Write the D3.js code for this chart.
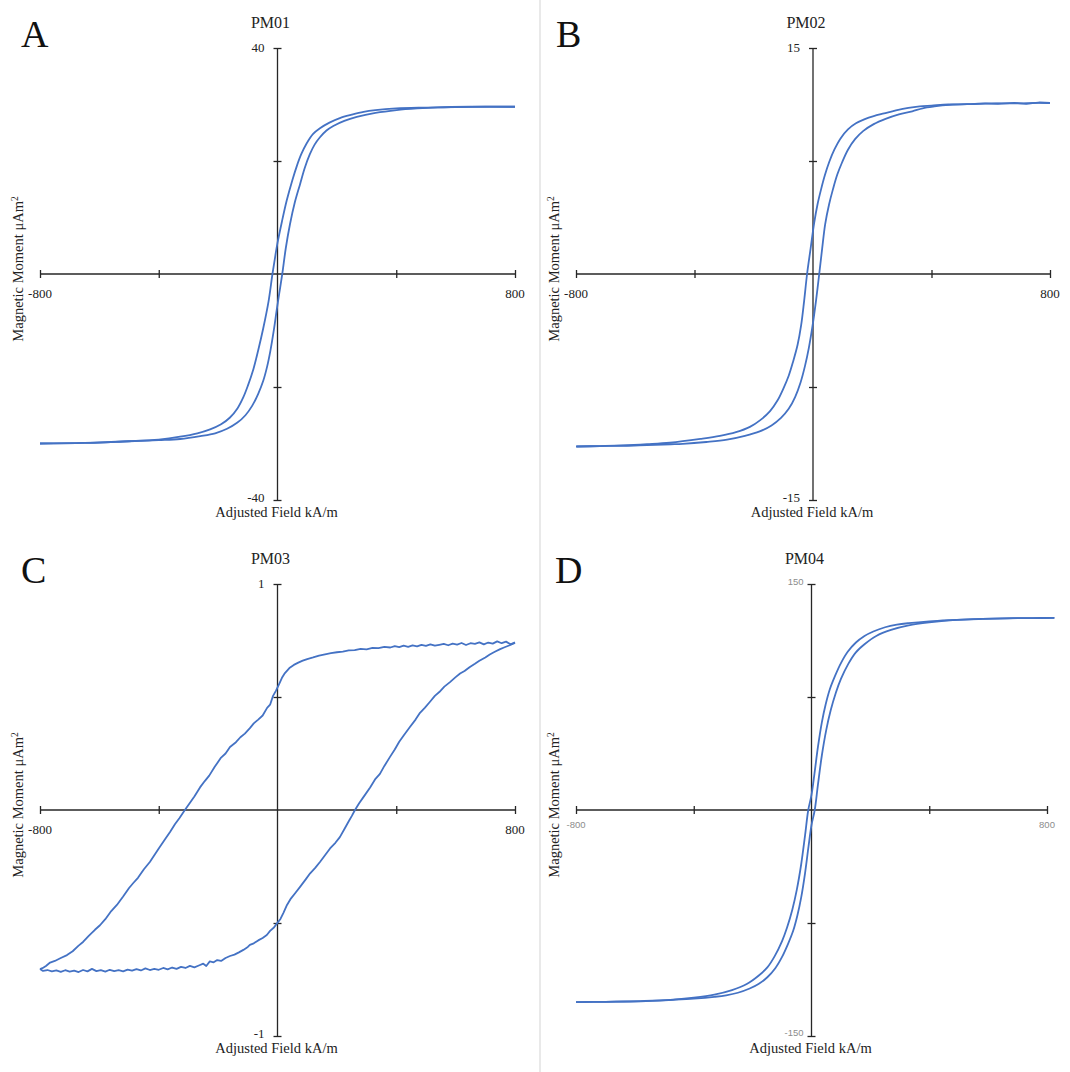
<!DOCTYPE html>
<html>
<head>
<meta charset="utf-8">
<script src="https://cdn.jsdelivr.net/npm/d3@7"></script>
<style>
  body { margin: 0; background: #fff; }
  svg { display: block; }
</style>
</head>
<body>
<svg id="chart" width="1070" height="1072"></svg>
<script>
// ---- Hysteresis loop data: [field kA/m, moment µAm²] ----
const panelLetters = ["A", "B", "C", "D"];
const sampleNames = ["PM01", "PM02", "PM03", "PM04"];
const fieldTicks = [-800, -400, 400, 800];
const fieldLabels = ["-800", "800"];
const momentLimits = [40, 15, 1, 150];
const momentLabels = [["40", "-40"], ["15", "-15"], ["1", "-1"], ["150", "-150"]];

// PM01
const pm01Down = [[800,29.6],[700,29.6],[600,29.55],[500,29.45],[400,29.3],[330,29.0],[290,28.7],[250,28.2],[210,27.6],[175,26.8],[143,25.8],[120,24.8],[98,23.1],[80,21.2],[65,19.1],[50,16.6],[31,13.0],[15,9.3],[0,5.5],[-8,3.0],[-17,0],[-30,-4.8],[-48,-9.6],[-65,-13.5],[-81,-16.8],[-100,-19.8],[-115,-21.8],[-135,-23.8],[-160,-25.4],[-190,-26.6],[-227,-27.5],[-270,-28.2],[-328,-28.8],[-400,-29.3],[-500,-29.6],[-650,-29.9],[-800,-30.0]];
const pm01Up = [[-800,-30.0],[-650,-29.9],[-500,-29.6],[-400,-29.4],[-328,-29.2],[-260,-28.7],[-210,-28.2],[-170,-27.4],[-135,-26.3],[-108,-25.0],[-85,-23.3],[-65,-21.2],[-48,-18.9],[-35,-16.4],[-24,-13.6],[-12,-9.8],[-3,-6.5],[6,-3.4],[16,0],[28,4.6],[42,8.8],[58,12.6],[76,15.9],[92,18.8],[109,21.2],[125,22.9],[143,24.2],[165,25.4],[188,26.2],[225,27.1],[267,27.8],[330,28.5],[401,29.0],[470,29.3],[540,29.5],[650,29.6],[800,29.6]];

// PM02
const pm02Down = [[800,11.35],[760,11.38],[720,11.3],[680,11.36],[625,11.3],[580,11.32],[520,11.27],[457,11.25],[400,11.18],[360,11.13],[322,11.03],[280,10.86],[240,10.66],[205,10.48],[175,10.28],[145,10.0],[118,9.6],[93,9.0],[72,8.25],[55,7.45],[40,6.55],[27,5.6],[15,4.6],[4,3.4],[-8,1.7],[-20,0],[-30,-1.8],[-40,-3.4],[-52,-4.7],[-67,-5.8],[-82,-6.75],[-100,-7.6],[-120,-8.4],[-145,-9.1],[-178,-9.7],[-213,-10.15],[-260,-10.5],[-314,-10.75],[-380,-10.95],[-483,-11.2],[-560,-11.3],[-640,-11.38],[-720,-11.42],[-798,-11.45]];
const pm02Up = [[-800,-11.45],[-720,-11.42],[-640,-11.4],[-560,-11.35],[-480,-11.3],[-440,-11.27],[-360,-11.15],[-290,-11.0],[-230,-10.75],[-180,-10.45],[-140,-10.05],[-108,-9.55],[-82,-8.95],[-60,-8.15],[-42,-7.2],[-27,-6.1],[-14,-4.9],[-2,-3.5],[10,-1.8],[21,0],[31,1.7],[41,3.3],[54,4.6],[67,5.6],[82,6.6],[98,7.4],[118,8.25],[142,8.95],[170,9.5],[205,9.95],[245,10.3],[290,10.6],[335,10.8],[370,11.0],[410,11.12],[460,11.22],[540,11.28],[620,11.32],[700,11.33],[760,11.36],[800,11.35]];

// PM03
const pm03Down = [[800,0.742],[785,0.733],[770,0.745],[755,0.738],[740,0.746],[725,0.736],[710,0.741],[695,0.733],[680,0.742],[665,0.735],[650,0.738],[635,0.730],[620,0.739],[605,0.732],[590,0.736],[575,0.729],[560,0.735],[545,0.731],[530,0.727],[515,0.733],[500,0.726],[485,0.731],[470,0.724],[455,0.728],[440,0.722],[425,0.727],[410,0.721],[395,0.725],[380,0.719],[360,0.722],[340,0.716],[320,0.717],[300,0.711],[280,0.713],[260,0.707],[240,0.706],[220,0.701],[200,0.698],[180,0.694],[160,0.689],[140,0.683],[120,0.675],[100,0.668],[85,0.661],[70,0.652],[55,0.642],[40,0.628],[25,0.606],[15,0.585],[5,0.556],[-5,0.528],[-15,0.505],[-25,0.466],[-35,0.452],[-50,0.418],[-65,0.400],[-80,0.383],[-93,0.362],[-110,0.338],[-125,0.322],[-140,0.300],[-160,0.279],[-175,0.250],[-190,0.232],[-212,0.190],[-230,0.152],[-245,0.128],[-261,0.100],[-280,0.060],[-296,0.030],[-312,0.0],[-330,-0.035],[-345,-0.062],[-362,-0.097],[-380,-0.132],[-400,-0.170],[-415,-0.200],[-430,-0.230],[-450,-0.262],[-470,-0.300],[-485,-0.322],[-500,-0.345],[-520,-0.383],[-541,-0.420],[-560,-0.447],[-580,-0.483],[-598,-0.510],[-615,-0.530],[-635,-0.556],[-655,-0.584],[-670,-0.600],[-690,-0.625],[-709,-0.642],[-730,-0.655],[-750,-0.668],[-766,-0.675],[-780,-0.690],[-792,-0.700],[-800,-0.704]];
const pm03Up = [[-800,-0.704],[-790,-0.712],[-775,-0.708],[-760,-0.714],[-745,-0.710],[-730,-0.716],[-715,-0.709],[-700,-0.715],[-685,-0.711],[-670,-0.717],[-655,-0.708],[-640,-0.714],[-625,-0.703],[-610,-0.713],[-595,-0.709],[-580,-0.715],[-565,-0.707],[-550,-0.713],[-535,-0.709],[-520,-0.714],[-505,-0.706],[-490,-0.711],[-475,-0.704],[-460,-0.710],[-445,-0.701],[-430,-0.708],[-415,-0.703],[-400,-0.707],[-385,-0.699],[-370,-0.705],[-355,-0.697],[-340,-0.703],[-325,-0.694],[-310,-0.699],[-295,-0.690],[-280,-0.696],[-265,-0.688],[-250,-0.680],[-240,-0.690],[-228,-0.670],[-215,-0.674],[-203,-0.664],[-190,-0.668],[-175,-0.655],[-160,-0.646],[-145,-0.640],[-130,-0.630],[-115,-0.619],[-100,-0.606],[-93,-0.597],[-80,-0.590],[-65,-0.577],[-50,-0.566],[-36,-0.553],[-25,-0.535],[-12,-0.520],[-3,-0.504],[10,-0.482],[20,-0.455],[32,-0.420],[45,-0.392],[60,-0.367],[76,-0.340],[95,-0.307],[110,-0.280],[127,-0.256],[143,-0.230],[160,-0.200],[177,-0.170],[195,-0.145],[210,-0.120],[225,-0.085],[240,-0.050],[250,-0.027],[261,0.0],[275,0.030],[290,0.058],[312,0.100],[330,0.138],[345,0.160],[360,0.195],[379,0.235],[395,0.268],[410,0.302],[425,0.330],[446,0.367],[465,0.400],[480,0.430],[496,0.452],[513,0.478],[530,0.505],[545,0.522],[562,0.546],[581,0.566],[600,0.588],[615,0.604],[630,0.615],[648,0.633],[665,0.647],[680,0.660],[700,0.675],[715,0.688],[732,0.700],[750,0.712],[765,0.720],[780,0.728],[792,0.735],[800,0.739]];

// PM04
const pm04Down = [[825,127.5],[750,127.4],[650,127.2],[550,126.7],[470,126.0],[400,125.2],[330,124.0],[290,123.0],[250,121.3],[210,118.5],[180,115.5],[150,111.0],[123,105.0],[100,97.5],[80,89.0],[62,80.0],[48,70.0],[35,58.0],[22,42.0],[10,24.0],[0,10.0],[-11,0],[-22,-17],[-35,-36],[-50,-53],[-65,-66],[-83,-78],[-100,-87],[-125,-97],[-150,-104.5],[-180,-110],[-220,-115.5],[-270,-119.5],[-330,-122.5],[-400,-124.5],[-480,-126],[-580,-126.8],[-700,-127.3],[-800,-127.5]];
const pm04Up = [[-800,-127.5],[-700,-127.3],[-580,-127.0],[-470,-126.0],[-400,-125.2],[-330,-124.0],[-290,-123.0],[-250,-121.3],[-210,-118.5],[-180,-115.5],[-150,-111.0],[-123,-105],[-100,-97.5],[-80,-89],[-62,-80],[-48,-70],[-35,-58],[-22,-42],[-10,-24],[0,-10],[11,0],[22,17],[35,36],[50,53],[65,66],[83,78],[100,87],[125,97],[150,104.5],[180,110],[220,115.5],[270,119.5],[330,122.5],[400,124.5],[480,126],[580,126.8],[700,127.3],[825,127.5]];

const loops = [[pm01Down, pm01Up], [pm02Down, pm02Up], [pm03Down, pm03Up], [pm04Down, pm04Up]];

// ---- Layout ----
const panels = [
  { left: 40,  right: 515,  top: 48,  bottom: 500,  letterX: 21 },
  { left: 576, right: 1050, top: 48,  bottom: 500,  letterX: 556 },
  { left: 40,  right: 515,  top: 584, bottom: 1036, letterX: 21 },
  { left: 576, right: 1047, top: 584, bottom: 1036, letterX: 555 }
];

const serif = "'Liberation Serif', 'Times New Roman', serif";
const lineColor = "#4472C4";
const axisColor = "#262626";

const svg = d3.select("#chart");

// thin divider between left and right columns
svg.append("line")
  .attr("x1", 540).attr("x2", 540).attr("y1", 0).attr("y2", 1072)
  .attr("stroke", "#e2e2e2").attr("stroke-width", 1.5);

panels.forEach((p, i) => {
  const g = svg.append("g");
  const lim = momentLimits[i];
  const x = d3.scaleLinear().domain([-800, 800]).range([p.left, p.right]);
  const y = d3.scaleLinear().domain([-lim, lim]).range([p.bottom, p.top]);
  const small = i === 3;  // PM04 tick labels are small and grey

  // Horizontal axis through zero, ticks crossing the line
  const xAxis = d3.axisBottom(x).tickValues(fieldTicks).tickSize(8).tickSizeOuter(0).tickFormat("");
  const xg = g.append("g").attr("transform", `translate(0,${y(0)})`).call(xAxis);
  xg.select(".domain").attr("stroke", axisColor).attr("stroke-width", 1.3)
    .attr("d", `M${x(-800)},0H${x(800)}`);
  xg.selectAll(".tick line").attr("y1", -4).attr("y2", 4).attr("stroke", axisColor).attr("stroke-width", 1.3);

  // Vertical axis through zero
  const yAxis = d3.axisLeft(y).tickValues([-lim, -lim / 2, lim / 2, lim]).tickSize(8).tickSizeOuter(0).tickFormat("");
  const yg = g.append("g").attr("transform", `translate(${x(0)},0)`).call(yAxis);
  yg.select(".domain").attr("stroke", axisColor).attr("stroke-width", 1.3)
    .attr("d", `M0,${y(lim)}V${y(-lim)}`);
  yg.selectAll(".tick line").attr("x1", -4).attr("x2", 4).attr("stroke", axisColor).attr("stroke-width", 1.3);

  // End labels
  const labStyle = sel => small
    ? sel.attr("font-family", "'Liberation Sans', Arial, sans-serif").attr("font-size", 9.5).attr("fill", "#8c8c8c")
    : sel.attr("font-family", serif).attr("font-size", 13).attr("fill", "#222");

  [[-800, fieldLabels[0]], [800, fieldLabels[1]]].forEach(([v, t]) => {
    g.append("text").attr("x", x(v)).attr("y", y(0) + (small ? 18 : 24))
      .attr("text-anchor", "middle").text(t).call(labStyle);
  });
  g.append("text").attr("x", x(0) - (small ? 8 : 13)).attr("y", y(lim) + (small ? 1 : 4))
    .attr("text-anchor", "end").text(momentLabels[i][0]).call(labStyle);
  g.append("text").attr("x", x(0) - (small ? 8 : 13)).attr("y", y(-lim) + (small ? 0 : 2))
    .attr("text-anchor", "end").text(momentLabels[i][1]).call(labStyle);

  // Loop branches
  const line = d3.line()
    .x(d => x(d[0])).y(d => y(d[1]))
    .curve(i === 2 ? d3.curveLinear : d3.curveCatmullRom.alpha(0.5));
  loops[i].forEach(branch => {
    g.append("path").datum(branch)
      .attr("d", line)
      .attr("fill", "none")
      .attr("stroke", lineColor)
      .attr("stroke-width", 1.8)
      .attr("stroke-linejoin", "round");
  });

  // Panel letter and sample name
  g.append("text").attr("x", p.letterX).attr("y", p.top - 1)
    .attr("font-family", serif).attr("font-size", 38).attr("fill", "#111")
    .text(panelLetters[i]);
  g.append("text").attr("x", x(0) - 7).attr("y", p.top - 20)
    .attr("text-anchor", "middle").attr("font-family", serif).attr("font-size", 16).attr("fill", "#222")
    .text(sampleNames[i]);

  // Axis titles
  g.append("text").attr("x", x(0) - 1).attr("y", p.bottom + 17)
    .attr("text-anchor", "middle").attr("font-family", serif).attr("font-size", 14.5).attr("fill", "#222")
    .text("Adjusted Field kA/m");
  const yt = g.append("text")
    .attr("transform", `translate(${p.left - 17},${(p.top + p.bottom) / 2 - 5}) rotate(-90)`)
    .attr("text-anchor", "middle").attr("font-family", serif).attr("font-size", 14.5).attr("fill", "#222");
  yt.append("tspan").text("Magnetic Moment μAm");
  yt.append("tspan").attr("font-size", 9.5).attr("dy", -5).text("2");
});
</script>
</body>
</html>
